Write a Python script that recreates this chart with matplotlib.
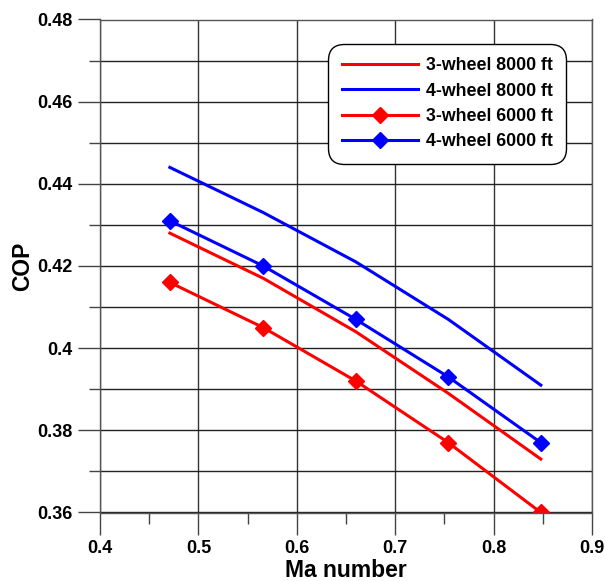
import matplotlib
matplotlib.use("Agg")
import matplotlib.pyplot as plt
from matplotlib.ticker import MultipleLocator

plt.rcParams['font.family'] = ['Liberation Sans', 'DejaVu Sans']
plt.rcParams['font.weight'] = 'bold'

mach = [0.471, 0.566, 0.660, 0.754, 0.848]
cop_3w_8000 = [0.428, 0.417, 0.404, 0.389, 0.373]
cop_4w_8000 = [0.444, 0.433, 0.421, 0.407, 0.391]
cop_3w_6000 = [0.416, 0.405, 0.392, 0.377, 0.360]
cop_4w_6000 = [0.431, 0.420, 0.407, 0.393, 0.377]

fig = plt.figure(figsize=(6.06, 5.81), dpi=100)
ax = fig.add_axes([100 / 606, 1 - 512.5 / 581, 492 / 606, 493 / 581])

ax.plot(mach, cop_3w_8000, color='#ff0000', lw=2.2, label='3-wheel 8000 ft')
ax.plot(mach, cop_4w_8000, color='#0000ff', lw=2.2, label='4-wheel 8000 ft')
ax.plot(mach, cop_3w_6000, color='#ff0000', lw=2.2, marker='D', ms=8.5,
        label='3-wheel 6000 ft')
ax.plot(mach, cop_4w_6000, color='#0000ff', lw=2.2, marker='D', ms=8.5,
        label='4-wheel 6000 ft')

ax.set_xlim(0.4, 0.9)
ax.set_ylim(0.36, 0.48)
ax.xaxis.set_minor_locator(MultipleLocator(0.05))
ax.yaxis.set_minor_locator(MultipleLocator(0.01))
ax.set_xticks([0.4, 0.5, 0.6, 0.7, 0.8, 0.9])
ax.set_xticklabels(['0.4', '0.5', '0.6', '0.7', '0.8', '0.9'])
ax.set_yticks([0.36, 0.38, 0.40, 0.42, 0.44, 0.46, 0.48])
ax.set_yticklabels(['0.36', '0.38', '0.4', '0.42', '0.44', '0.46', '0.48'])

ax.grid(True, which='major', axis='x', color='#333333', lw=1)
ax.grid(True, which='both', axis='y', color='#222222', lw=1)
ax.set_axisbelow(True)

ax.tick_params(which='major', direction='out', length=16, width=1,
               color='#444444', labelsize=13, pad=4)
ax.tick_params(which='minor', direction='out', length=8, width=1,
               color='#444444')
for s in ax.spines.values():
    s.set_color('#555555')
    s.set_linewidth(1)

ax.set_xlabel('Ma number', fontsize=16.5, fontweight='bold', labelpad=1)
ax.set_ylabel('COP', fontsize=16.5, fontweight='bold', labelpad=2)

leg = ax.legend(loc='upper right', bbox_to_anchor=(0.9475, 0.9505),
                fontsize=12.8, frameon=True, fancybox=True,
                edgecolor='black', framealpha=1, handlelength=4.3,
                handletextpad=0.45, labelspacing=0.47, borderpad=0.75,
                borderaxespad=0)
leg.get_frame().set_linewidth(1)
leg.get_frame().set_boxstyle('round', pad=0.0, rounding_size=0.9)

fig.savefig('out.png', dpi=100)
